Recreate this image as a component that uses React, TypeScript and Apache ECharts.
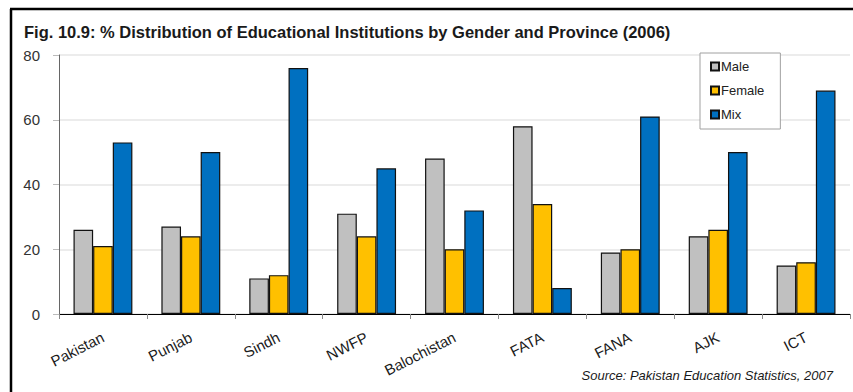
import React, { useEffect, useRef } from "react";
import * as echarts from "echarts";

const categories = ["Pakistan", "Punjab", "Sindh", "NWFP", "Balochistan", "FATA", "FANA", "AJK", "ICT"];
const maleValues = [26, 27, 11, 31, 48, 58, 19, 24, 15];
const femaleValues = [21, 24, 12, 24, 20, 34, 20, 26, 16];
const mixValues = [53, 50, 76, 45, 32, 8, 61, 50, 69];
const seriesNames = ["Male", "Female", "Mix"];
const seriesColors = ["#C0C0C0", "#FFC000", "#0070C0"];
const titleText = "Fig. 10.9: % Distribution of Educational Institutions by Gender and Province (2006)";
const sourceText = "Source: Pakistan Education Statistics, 2007";

export default function App() {
  const ref = useRef<HTMLDivElement>(null);
  useEffect(() => {
    if (!ref.current) return;
    const chart = echarts.init(ref.current, null, { renderer: "svg" });
    const font = "'Liberation Sans', Arial, sans-serif";
    const values = [maleValues, femaleValues, mixValues];
    chart.setOption({
      animation: false,
      backgroundColor: "#ffffff",
      textStyle: { fontFamily: font },
      title: {
        text: titleText,
        left: 24,
        top: 23,
        padding: 0,
        textStyle: { fontSize: 16.5, fontWeight: "bold", color: "#1a1a1a", fontFamily: font },
      },
      legend: {
        orient: "vertical",
        left: 700,
        top: 53,
        width: 79,
        height: 75,
        padding: [7, 16, 8, 10],
        itemGap: 11,
        itemWidth: 8,
        itemHeight: 8,
        backgroundColor: "#ffffff",
        borderColor: "#a0a0a0",
        borderWidth: 1,
        icon: "rect",
        textStyle: { fontSize: 13, color: "#222", fontFamily: font, padding: [0, 0, 0, -3] },
        data: seriesNames,
      },
      grid: { left: 59, right: 3, top: 55, bottom: 78, containLabel: false },
      xAxis: {
        type: "category",
        data: categories,
        axisLine: { show: true, lineStyle: { color: "#000", width: 1 } },
        axisTick: { show: true, length: 5, lineStyle: { color: "#888" } },
        axisLabel: { rotate: 27, margin: 22, fontSize: 15, color: "#1a1a1a", fontFamily: font },
      },
      yAxis: {
        type: "value",
        min: 0,
        max: 80,
        interval: 20,
        axisLine: { show: true, lineStyle: { color: "#666", width: 1 } },
        axisTick: { show: true, length: 6, lineStyle: { color: "#bbb" } },
        axisLabel: { fontSize: 15, color: "#333", margin: 19, fontFamily: font },
        splitLine: { show: true, lineStyle: { color: "#e6e6e6", width: 1.5 } },
      },
      series: seriesNames.map((name, i) => ({
        name,
        type: "bar",
        data: values[i],
        barGap: "0%",
        barCategoryGap: "33%",
        itemStyle: { color: seriesColors[i], borderColor: "#111", borderWidth: 1.2 },
      })),
      graphic: [
        { type: "line", shape: { x1: 11, y1: 9, x2: 11, y2: 392 }, style: { stroke: "#000", lineWidth: 2.5 } },
        { type: "line", shape: { x1: 10, y1: 9, x2: 853, y2: 9 }, style: { stroke: "#000", lineWidth: 2.5 } },
        {
          type: "text",
          right: 20,
          top: 369,
          style: { text: sourceText, font: `italic 13px ${font}`, fill: "#1a1a1a" },
        },
      ],
    });
    return () => chart.dispose();
  }, []);
  return <div ref={ref} style={{ position: "fixed", left: 0, top: 0, width: 853, height: 392 }} />;
}
